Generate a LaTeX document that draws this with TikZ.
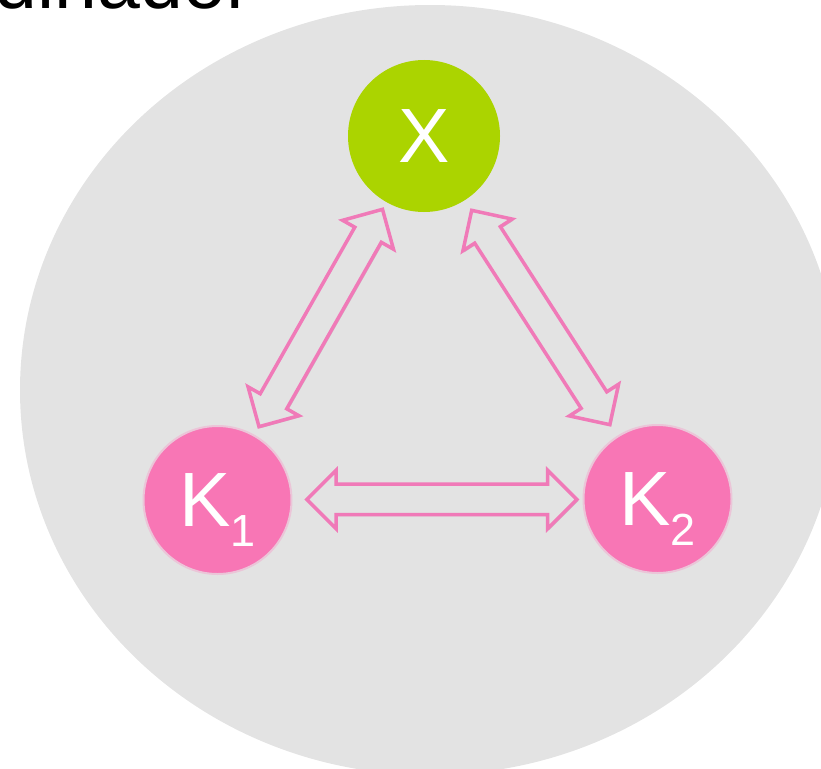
\documentclass[tikz,border=0pt]{standalone}
\usepackage{fontspec}
\setmainfont{Liberation Sans}
\usetikzlibrary{shapes.arrows,shadows,calc}
\definecolor{bggray}{HTML}{E3E3E3}
\definecolor{xgreen}{HTML}{ABD400}
\definecolor{kpink}{HTML}{F876B5}
\definecolor{kedge}{HTML}{EBC5D8}
\definecolor{arrowpink}{HTML}{F07AB8}
\begin{document}
\begin{tikzpicture}[x=1pt,y=-1pt,
  ball/.style={circle,inner sep=0pt,text=white,font=\fontsize{77}{80}\selectfont},
  kball/.style={ball,fill=kpink,draw=kedge,line width=2pt,minimum size=148pt},
  xball/.style={ball,fill=xgreen,minimum size=152pt},
  dblarrow/.style={double arrow,double arrow head extend=14pt,double arrow tip angle=90,
    minimum width=55pt,inner sep=0pt,text height=13.5pt,text depth=13.5pt,
    draw=arrowpink,line width=3.5pt,fill=bggray,
    drop shadow={shadow xshift=1.5pt,shadow yshift=-1.5pt,opacity=0.12,fill=black}}]
\useasboundingbox (0,0) rectangle (821,768);
\fill[bggray] (430,390) ellipse [x radius=410pt,y radius=385pt];
\node[anchor=base east,inner sep=0pt,font=\fontsize{77}{80}\selectfont] (title) at (252,9) {Coordinador};
\node[xball] (nx) at (424,136) {X};
\node[kball] (k1) at (217.5,500) {K\raisebox{-20pt}[0pt][0pt]{\fontsize{45}{47}\selectfont 1}};
\node[kball] (k2) at (657.5,499) {K\raisebox{-20pt}[0pt][0pt]{\fontsize{45}{47}\selectfont 2}};
\node[dblarrow,minimum height=250pt,rotate=60.4] (a1) at ($(k1)!0.5!(nx)$) {};
\node[dblarrow,minimum height=255pt,rotate=-57.2] (a2) at ($(nx)!0.5!(k2)$) {};
\node[dblarrow,minimum height=270pt] (a3) at ($(k1)!0.51!(k2)$) {};
\end{tikzpicture}
\end{document}
